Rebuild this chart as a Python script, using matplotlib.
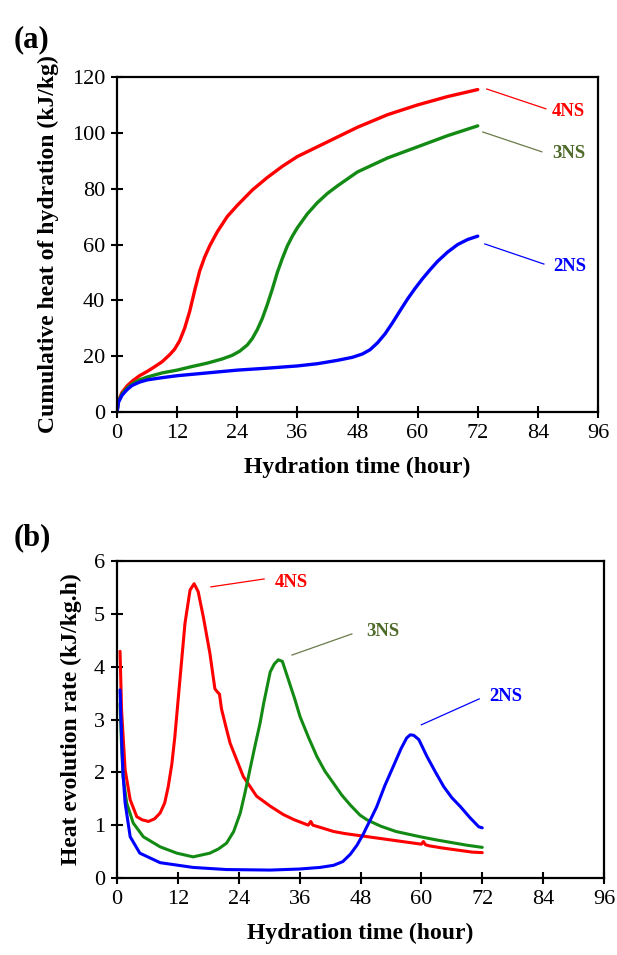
import numpy as np
import matplotlib
matplotlib.use("Agg")
import matplotlib.pyplot as plt

plt.rcParams["font.family"] = ["Liberation Serif", "DejaVu Serif"]

# --- (a) calor acumulado de hidratação ---
t_4ns_a = [0, 0.3, 1, 2, 3, 4.5, 6, 7.5, 9, 10.5, 11.5, 12.5, 13.5, 14.5, 15.5, 16.5, 17.5, 18.5,
           20, 22, 24, 27, 30, 33, 36, 40, 44, 48, 54, 60, 66, 72]
q_4ns_a = [0, 4, 7, 9.3, 11, 13, 14.5, 16.2, 18, 20.5, 22.5, 25.5, 30, 36, 43.5, 50.5, 55.5, 59.5,
           64.5, 70, 74, 79.5, 84, 88, 91.5, 95, 98.5, 102, 106.5, 110, 113, 115.5]
t_3ns_a = [0, 0.3, 1, 2, 3, 4.5, 6, 9, 12, 15, 18, 21, 23, 24.5, 26, 27, 28, 29, 30, 31, 32,
           33, 34, 35, 36, 38, 40, 42, 44, 48, 54, 60, 66, 72]
q_3ns_a = [0, 3.8, 6.5, 8.5, 10, 11.5, 12.5, 14, 15, 16.3, 17.5, 19, 20.3, 21.8, 24, 26.3, 29.5, 33.5, 38.5, 44, 50,
           55, 59.5, 63, 66, 71, 75, 78.3, 81, 86, 91, 95, 99, 102.5]
t_2ns_a = [0, 0.3, 1, 2, 3, 4.5, 6, 9, 12, 18, 24, 30, 36, 40, 44, 47, 49, 50.5, 52, 53.5, 55, 56.5,
           58, 59.5, 61, 62.5, 64, 66, 68, 70, 72]
q_2ns_a = [0, 3.5, 6, 8, 9.5, 10.7, 11.5, 12.3, 13, 14, 15, 15.7, 16.5, 17.3, 18.5, 19.6, 20.8, 22.3, 24.8, 28, 32, 36.3,
           40.5, 44.3, 47.8, 51, 54, 57.3, 60, 61.8, 63]

# --- (b) taxa de evolução de calor ---
t_4ns_b = [0.6, 0.9, 1.6, 2.6, 3.9, 5, 6.2, 7.4, 8.5, 9.4, 10.1, 10.8, 11.4, 12.4, 13.4, 14.4, 15.2,
           16.0, 17.0, 18.3, 19.3, 19.8, 20.2, 20.6, 21.5, 22.3, 24.9, 27.5, 30.2, 32.8, 35, 37.7, 38.2,
           38.6, 40, 42.7, 45, 48, 51, 54, 57, 60, 60.4, 60.8, 61.5, 64, 67, 70, 72]
r_4ns_b = [4.29, 3.18, 2.05, 1.48, 1.16, 1.1, 1.07, 1.12, 1.23, 1.42, 1.73, 2.15, 2.67, 3.75, 4.82, 5.45, 5.57,
           5.42, 4.95, 4.26, 3.58, 3.52, 3.48, 3.2, 2.85, 2.55, 1.92, 1.55, 1.36, 1.2, 1.1, 1.0, 1.07,
           1.0, 0.96, 0.88, 0.84, 0.8, 0.76, 0.72, 0.68, 0.64, 0.69, 0.63, 0.61, 0.57, 0.53, 0.49, 0.48]
t_3ns_b = [0.6, 0.9, 1.2, 1.9, 3.2, 5.2, 8.5, 11.8, 15, 18.3, 20, 21.6, 23, 24.3, 25.2, 26.2, 27.2, 28.2,
           28.9, 30.2, 31, 31.8, 32.6, 33.8, 35, 36.1, 37.8, 39.4, 41, 42.7, 44.3, 46, 47.9, 49.3, 52,
           55, 59.8, 63, 66, 69, 72]
r_3ns_b = [3.3, 2.5, 1.92, 1.42, 1.04, 0.78, 0.59, 0.47, 0.4, 0.47, 0.55, 0.66, 0.88, 1.23, 1.6, 2.05, 2.5, 2.93,
           3.3, 3.9, 4.05, 4.13, 4.1, 3.75, 3.4, 3.05, 2.65, 2.3, 2.02, 1.79, 1.57, 1.38, 1.19, 1.1, 0.98,
           0.88, 0.78, 0.72, 0.67, 0.62, 0.58]
t_2ns_b = [0.6, 0.9, 1.2, 1.6, 2.6, 4.5, 8.5, 15, 21.6, 30.2, 36, 40, 42.7, 44.5, 46, 47.3, 48.6, 49.3,
           50.2, 51.2, 52.8, 54.5, 56, 57.1, 57.8, 58.5, 59.5, 61.1, 62.8, 64.4, 66, 67.7, 69.5, 71.3, 72]
r_2ns_b = [3.56, 2.67, 1.95, 1.42, 0.78, 0.47, 0.29, 0.2, 0.16, 0.15, 0.17, 0.2, 0.24, 0.31, 0.45, 0.62, 0.84, 0.98,
           1.15, 1.35, 1.75, 2.12, 2.45, 2.65, 2.71, 2.7, 2.62, 2.3, 2.0, 1.73, 1.52, 1.35, 1.15, 0.97, 0.95]

NOMES = ["4NS", "3NS", "2NS"]
CORES = ["#ff0000", "#138a13", "#0000ff"]
COR_ROTULO = ["#ff0000", "#4f6b2a", "#0000ff"]
COR_GUIA = ["#ff0000", "#6b7a4a", "#0000ff"]

# rótulos com linha guia (em coordenadas de dados)
guia_a = [((73.8, 115.7), (85.6, 108.6), (90.0, 107.5)),
          ((73.0, 100.3), (84.8, 93.2), (90.2, 92.5)),
          ((73.4, 60.2), (85.2, 53.0), (90.3, 52.0))]
guia_b = [((18.5, 5.51), (29.0, 5.66), (34.3, 5.6)),
          ((34.5, 4.22), (46.3, 4.62), (52.3, 4.66)),
          ((60.0, 2.90), (71.4, 3.39), (76.7, 3.43))]


def estilo(ax, ymax, ystep, ylabel):
    ax.set_xlim(0, 96)
    ax.set_ylim(0, ymax)
    ax.set_xticks(np.arange(0, 97, 12))
    ax.set_yticks(np.arange(0, ymax + 0.001, ystep))
    ax.tick_params(direction="inout", length=9, width=1.5, labelsize=16, pad=4)
    for sp in ax.spines.values():
        sp.set_linewidth(1.6)
    ax.set_xlabel("Hydration time (hour)", fontsize=17, fontweight="bold", labelpad=10)
    ax.set_ylabel(ylabel, fontsize=17, fontweight="bold", labelpad=9)


fig = plt.figure(figsize=(6.17, 9.55), dpi=100)
ax1 = fig.add_axes([117 / 617, 1 - 412 / 955, 481 / 617, 335 / 955])
ax2 = fig.add_axes([117 / 617, 1 - 878 / 955, 487 / 617, 317 / 955])

for t, q, c in zip([t_4ns_a, t_3ns_a, t_2ns_a], [q_4ns_a, q_3ns_a, q_2ns_a], CORES):
    ax1.plot(t, q, color=c, lw=2.4, solid_capstyle="round", solid_joinstyle="round")
for t, r, c in zip([t_4ns_b, t_3ns_b, t_2ns_b], [r_4ns_b, r_3ns_b, r_2ns_b], CORES):
    ax2.plot(t, r, color=c, lw=2.2, solid_capstyle="round", solid_joinstyle="round")

for ax, guias in [(ax1, guia_a), (ax2, guia_b)]:
    for (p0, p1, pl), nome, cl, cg in zip(guias, NOMES, COR_ROTULO, COR_GUIA):
        ax.plot([p0[0], p1[0]], [p0[1], p1[1]], color=cg, lw=0.9)
        ax.text(pl[0], pl[1], nome, color=cl, fontsize=13.5, fontweight="bold",
                ha="center", va="center")

estilo(ax1, 120, 20, "Cumulative heat of hydration (kJ/kg)")
estilo(ax2, 6, 1, "Heat evolution rate (kJ/kg.h)")

fig.text(14 / 617, 1 - 40 / 955, "(a)", fontsize=22, fontweight="bold", va="center")
fig.text(14 / 617, 1 - 538 / 955, "(b)", fontsize=22, fontweight="bold", va="center")

fig.savefig("out.png", dpi=100)
